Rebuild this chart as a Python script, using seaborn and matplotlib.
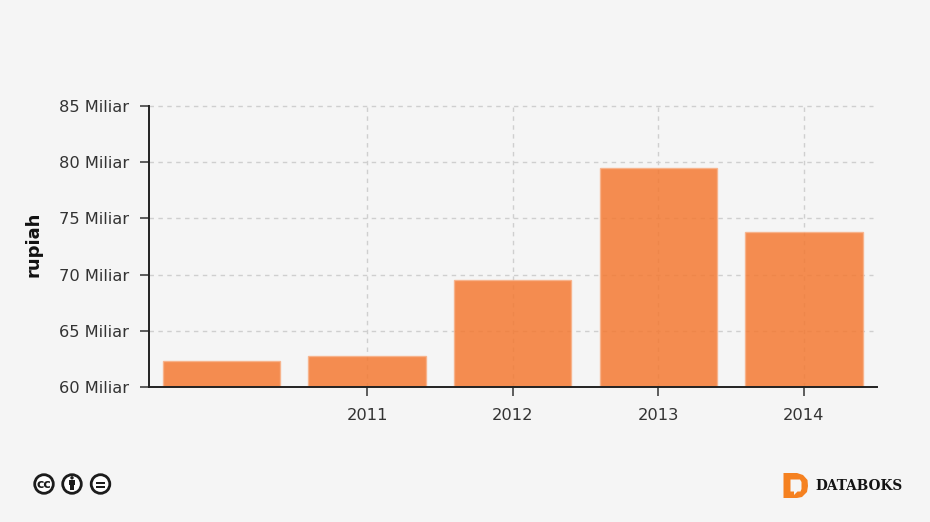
import matplotlib
matplotlib.use("Agg")
import matplotlib.pyplot as plt
from matplotlib.patches import Circle, PathPatch, Rectangle
from matplotlib.path import Path
import pandas as pd
import seaborn as sns

categories = ["2010", "2011", "2012", "2013", "2014"]
values = [62.3, 62.8, 69.5, 79.5, 73.8]
x_tick_labels = ["2011", "2012", "2013", "2014"]
y_ticks = [60, 65, 70, 75, 80, 85]
y_tick_labels = [f"{v} Miliar" for v in y_ticks]

BG = "#f5f5f5"
W, H = 930, 522
sns.set_theme(style="white", rc={"figure.facecolor": BG, "axes.facecolor": BG})
plt.rcParams["font.family"] = ["DejaVu Sans"]

fig = plt.figure(figsize=(W / 100, H / 100), dpi=100, facecolor=BG)
ax = fig.add_axes([148.5 / W, 1 - 387 / H, (877 - 148.5) / W, (387 - 106) / H])

df = pd.DataFrame({"year": categories, "value": values})
sns.barplot(data=df, x="year", y="value", order=categories, color="#f47a33",
            saturation=1, width=0.807, alpha=0.85, edgecolor="#f8b189", linewidth=1,
            ax=ax, zorder=3)

ax.set_xlim(-0.502, 4.503)
ax.set_ylim(60, 85)
ax.set_xticks([1, 2, 3, 4], x_tick_labels)
ax.set_yticks(y_ticks, y_tick_labels)
ax.set_xlabel("")
ax.set_ylabel("")
ax.set_axisbelow(True)

grid_style = dict(color="#cfcfcf", linewidth=1, linestyles=(0, (3.2, 3.2)), zorder=1, clip_on=False)
ax.hlines(y_ticks[1:], -0.502, 4.474, **grid_style)
ax.vlines([1, 2, 3, 4], 60, 85, **grid_style)

for side in ("top", "right"):
    ax.spines[side].set_visible(False)
for side in ("left", "bottom"):
    ax.spines[side].set_color("#222222")
    ax.spines[side].set_linewidth(1.4)
    ax.spines[side].set_zorder(5)
ax.tick_params(axis="both", length=6.6, width=1.1, color="#333333", direction="out",
               labelcolor="#333333", labelsize=11.7, bottom=True, left=True)
ax.tick_params(axis="x", pad=8.5)
ax.tick_params(axis="y", pad=7.5)

fig.text(33.5 / W, 1 - 244.5 / H, "rupiah", rotation=90, ha="center", va="center",
         fontsize=13, fontweight="bold", color="#111111")

# Overlay in pixel coordinates for the licence icons and the publisher logo
ov = fig.add_axes([0, 0, 1, 1], facecolor="none")
ov.set_xlim(0, W)
ov.set_ylim(H, 0)
ov.axis("off")

ICON = "#1c1c1c"
for cx in (44, 72, 100.5):
    ov.add_patch(Circle((cx, 484), 9.3, fc="white", ec=ICON, lw=2))
ov.text(44, 484.3, "cc", ha="center", va="center", fontsize=9, fontweight="bold", color=ICON)
ov.add_patch(Circle((72, 477.8), 1.7, fc=ICON, ec="none"))
ov.add_patch(Rectangle((69.2, 480), 5.6, 5, fc=ICON, ec="none"))
ov.add_patch(Rectangle((70.4, 484), 3.2, 6, fc=ICON, ec="none"))
for y in (481.8, 485.6):
    ov.add_patch(Rectangle((95.8, y), 9.4, 2, fc=ICON, ec="none"))

outer = [(783.5, 473), (797, 473), (803, 475), (807.5, 480), (808, 486), (807, 492),
         (802, 497), (797, 498), (783.5, 498), (783.5, 473)]
inner = [(790.5, 479.5), (790.5, 491.5), (794, 491.5), (794, 495), (797.5, 491.5), (800.5, 491.5),
         (801.5, 489), (801.5, 482), (800, 479.5), (790.5, 479.5)]
verts = outer + inner
codes = ([Path.MOVETO] + [Path.LINETO] * 8 + [Path.CLOSEPOLY]) * 2
ov.add_patch(PathPatch(Path(verts, codes), fc="#f58120", ec="none"))
ov.text(815, 485.5, "DATABOKS", ha="left", va="center", fontsize=9.8, fontweight="bold",
        family="DejaVu Serif", color="#141414")

fig.savefig("out.png", dpi=100, facecolor=BG)
